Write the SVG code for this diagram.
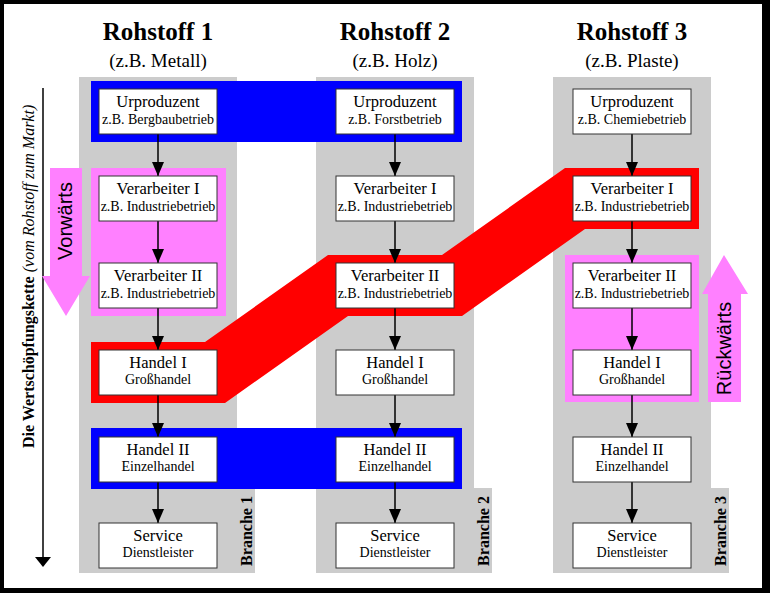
<svg xmlns="http://www.w3.org/2000/svg" width="770" height="593" viewBox="0 0 770 593">
<style>
.col{fill:#cccccc}
.blue{fill:#0000ff}
.red{fill:#ff0000}
.pink{fill:#ff80ff}
.box{fill:#ffffff;stroke:#333333;stroke-width:1}
.t1{font-family:"Liberation Serif","Times New Roman",serif;font-size:16.5px;text-anchor:middle;fill:#000}
.t2{font-family:"Liberation Serif","Times New Roman",serif;font-size:14px;text-anchor:middle;fill:#000}
.title{font-family:"Liberation Serif","Times New Roman",serif;font-size:25px;font-weight:bold;text-anchor:middle;fill:#000}
.sub{font-family:"Liberation Serif","Times New Roman",serif;font-size:19px;text-anchor:middle;fill:#000}
.br{font-family:"Liberation Serif","Times New Roman",serif;font-size:16px;font-weight:bold;text-anchor:middle;fill:#000}
.dir{font-family:"Liberation Sans",Arial,sans-serif;font-size:20px;text-anchor:middle;fill:#000}
.axis{font-family:"Liberation Serif","Times New Roman",serif;font-size:16px;fill:#000}
.conn{stroke:#000;stroke-width:1.5;fill:none}
</style>
<defs>
<marker id="ah" markerUnits="userSpaceOnUse" markerWidth="14" markerHeight="12" viewBox="0 0 14 12" refX="14" refY="6" orient="auto">
<path d="M0,0 L14,6 L0,12 Z" fill="#000"/>
</marker>
</defs>
<rect x="0" y="0" width="770" height="593" fill="#000"/>
<rect x="4" y="4" width="758" height="584" fill="#fff"/>
<g id="columns">
<path class="col" d="M79,77 H237 V488 H255 V573 H79 Z"/>
<path class="col" d="M316,77 H474 V488 H492 V573 H316 Z"/>
<path class="col" d="M553,77 H711 V488 H729 V573 H553 Z"/>
</g>
<g id="bands">
<rect class="blue" x="91" y="81" width="371" height="61"/>
<rect class="blue" x="91" y="428" width="371" height="61"/>
<rect class="pink" x="91" y="168" width="135" height="148"/>
<rect class="pink" x="565" y="255" width="134" height="147"/>
<polygon class="red" points="91,342 205,342 328,255 442,255 565,168 699,168 699,229 585,229 462,316 348,316 225,403 91,403"/>
</g>
<g id="titles">
<text class="title" x="158" y="40">Rohstoff 1</text>
<text class="sub" x="158" y="67">(z.B. Metall)</text>
<text class="title" x="395" y="40">Rohstoff 2</text>
<text class="sub" x="395" y="67">(z.B. Holz)</text>
<text class="title" x="632" y="40">Rohstoff 3</text>
<text class="sub" x="632" y="67">(z.B. Plaste)</text>
</g>
<g id="axis">
<line x1="43" y1="88" x2="43" y2="558" stroke="#000" stroke-width="1.5"/>
<polygon points="35,557 51,557 43,567" fill="#000"/>
<text class="axis" transform="translate(34,448) rotate(-90)"><tspan font-weight="bold">Die Wertschöpfungskette</tspan><tspan font-style="italic"> (vom Rohstoff zum Markt)</tspan></text>
</g>
<g id="vorwaerts">
<polygon class="pink" points="50,168 82,168 82,276 90,276 66,316 42,276 50,276"/>
<text class="dir" transform="translate(72,221) rotate(-90)">Vorwärts</text>
</g>
<g id="rueckwaerts">
<polygon class="pink" points="724,255 748,294 741,294 741,402 708,402 708,294 702,294"/>
<text class="dir" transform="translate(731,348.5) rotate(-90)">Rückwärts</text>
</g>
<g id="branches">
<text class="br" transform="translate(252,531) rotate(-90)">Branche 1</text>
<text class="br" transform="translate(489,531) rotate(-90)">Branche 2</text>
<text class="br" transform="translate(726,531) rotate(-90)">Branche 3</text>
</g>
<g id="connectors">
<line class="conn" x1="158" y1="134" x2="158" y2="176" marker-end="url(#ah)"/>
<line class="conn" x1="158" y1="221" x2="158" y2="263" marker-end="url(#ah)"/>
<line class="conn" x1="158" y1="308" x2="158" y2="350" marker-end="url(#ah)"/>
<line class="conn" x1="158" y1="395" x2="158" y2="437" marker-end="url(#ah)"/>
<line class="conn" x1="158" y1="482" x2="158" y2="523" marker-end="url(#ah)"/>
<line class="conn" x1="395" y1="134" x2="395" y2="176" marker-end="url(#ah)"/>
<line class="conn" x1="395" y1="221" x2="395" y2="263" marker-end="url(#ah)"/>
<line class="conn" x1="395" y1="308" x2="395" y2="350" marker-end="url(#ah)"/>
<line class="conn" x1="395" y1="395" x2="395" y2="437" marker-end="url(#ah)"/>
<line class="conn" x1="395" y1="482" x2="395" y2="523" marker-end="url(#ah)"/>
<line class="conn" x1="632" y1="134" x2="632" y2="176" marker-end="url(#ah)"/>
<line class="conn" x1="632" y1="221" x2="632" y2="263" marker-end="url(#ah)"/>
<line class="conn" x1="632" y1="308" x2="632" y2="350" marker-end="url(#ah)"/>
<line class="conn" x1="632" y1="395" x2="632" y2="437" marker-end="url(#ah)"/>
<line class="conn" x1="632" y1="482" x2="632" y2="523" marker-end="url(#ah)"/>
</g>
<g id="c1-urproduzent"><rect class="box" x="99" y="89" width="118" height="45"/><text class="t1" x="158" y="107">Urproduzent</text><text class="t2" x="158" y="124">z.B. Bergbaubetrieb</text></g>
<g id="c1-verarbeiter1"><rect class="box" x="99" y="176" width="118" height="45"/><text class="t1" x="158" y="194">Verarbeiter I</text><text class="t2" x="158" y="211">z.B. Industriebetrieb</text></g>
<g id="c1-verarbeiter2"><rect class="box" x="99" y="263" width="118" height="45"/><text class="t1" x="158" y="281">Verarbeiter II</text><text class="t2" x="158" y="298">z.B. Industriebetrieb</text></g>
<g id="c1-handel1"><rect class="box" x="99" y="350" width="118" height="45"/><text class="t1" x="158" y="368">Handel I</text><text class="t2" x="158" y="384">Großhandel</text></g>
<g id="c1-handel2"><rect class="box" x="99" y="437" width="118" height="45"/><text class="t1" x="158" y="455">Handel II</text><text class="t2" x="158" y="471">Einzelhandel</text></g>
<g id="c1-service"><rect class="box" x="99" y="523" width="118" height="45"/><text class="t1" x="158" y="541">Service</text><text class="t2" x="158" y="557">Dienstleister</text></g>
<g id="c2-urproduzent"><rect class="box" x="336" y="89" width="118" height="45"/><text class="t1" x="395" y="107">Urproduzent</text><text class="t2" x="395" y="124">z.B. Forstbetrieb</text></g>
<g id="c2-verarbeiter1"><rect class="box" x="336" y="176" width="118" height="45"/><text class="t1" x="395" y="194">Verarbeiter I</text><text class="t2" x="395" y="211">z.B. Industriebetrieb</text></g>
<g id="c2-verarbeiter2"><rect class="box" x="336" y="263" width="118" height="45"/><text class="t1" x="395" y="281">Verarbeiter II</text><text class="t2" x="395" y="298">z.B. Industriebetrieb</text></g>
<g id="c2-handel1"><rect class="box" x="336" y="350" width="118" height="45"/><text class="t1" x="395" y="368">Handel I</text><text class="t2" x="395" y="384">Großhandel</text></g>
<g id="c2-handel2"><rect class="box" x="336" y="437" width="118" height="45"/><text class="t1" x="395" y="455">Handel II</text><text class="t2" x="395" y="471">Einzelhandel</text></g>
<g id="c2-service"><rect class="box" x="336" y="523" width="118" height="45"/><text class="t1" x="395" y="541">Service</text><text class="t2" x="395" y="557">Dienstleister</text></g>
<g id="c3-urproduzent"><rect class="box" x="573" y="89" width="118" height="45"/><text class="t1" x="632" y="107">Urproduzent</text><text class="t2" x="632" y="124">z.B. Chemiebetrieb</text></g>
<g id="c3-verarbeiter1"><rect class="box" x="573" y="176" width="118" height="45"/><text class="t1" x="632" y="194">Verarbeiter I</text><text class="t2" x="632" y="211">z.B. Industriebetrieb</text></g>
<g id="c3-verarbeiter2"><rect class="box" x="573" y="263" width="118" height="45"/><text class="t1" x="632" y="281">Verarbeiter II</text><text class="t2" x="632" y="298">z.B. Industriebetrieb</text></g>
<g id="c3-handel1"><rect class="box" x="573" y="350" width="118" height="45"/><text class="t1" x="632" y="368">Handel I</text><text class="t2" x="632" y="384">Großhandel</text></g>
<g id="c3-handel2"><rect class="box" x="573" y="437" width="118" height="45"/><text class="t1" x="632" y="455">Handel II</text><text class="t2" x="632" y="471">Einzelhandel</text></g>
<g id="c3-service"><rect class="box" x="573" y="523" width="118" height="45"/><text class="t1" x="632" y="541">Service</text><text class="t2" x="632" y="557">Dienstleister</text></g>
</svg>
